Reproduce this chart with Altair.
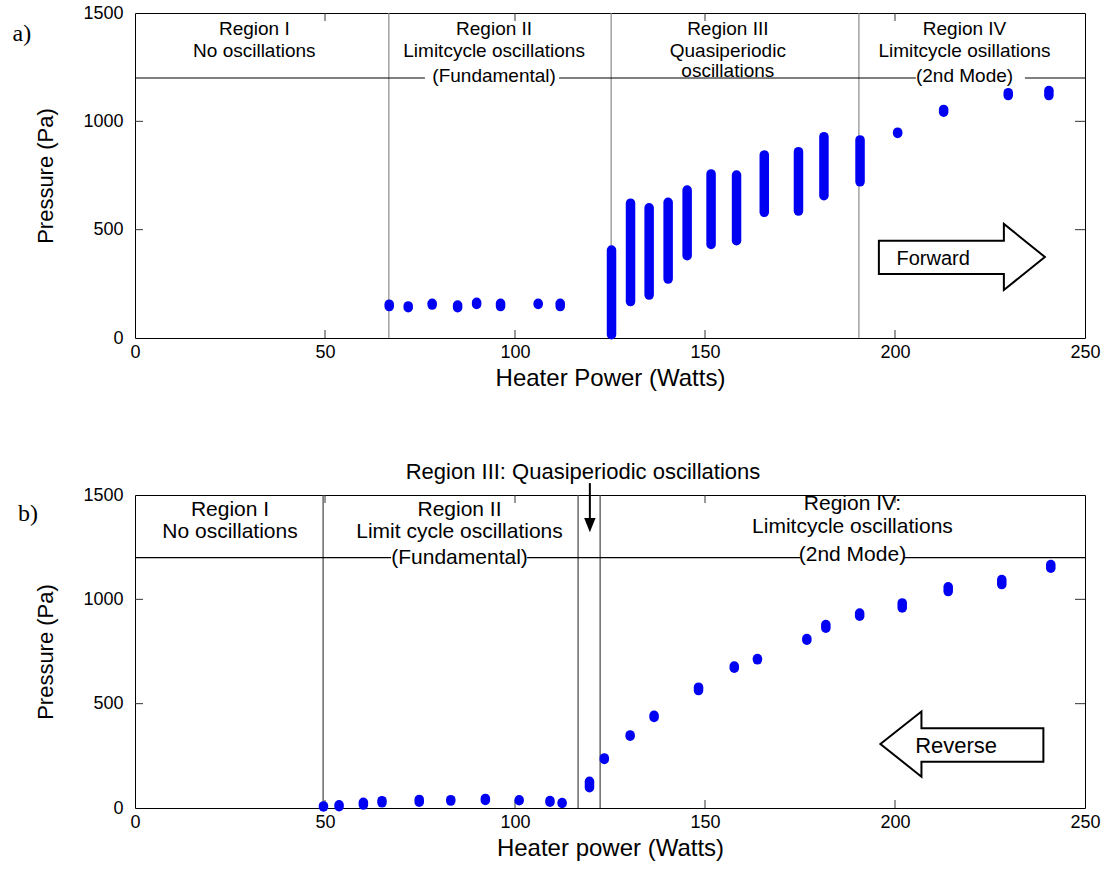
import altair as alt
import pandas as pd

# ---------------- data ----------------
# a) forward sweep: heater power (W) and pressure range (Pa) of each cluster
top_power = [66.9, 71.9, 78.2, 84.9, 89.9, 96.2, 106.1, 111.9,
             125.4, 130.4, 135.3, 140.3, 145.3, 151.6, 158.3, 165.6, 174.6, 181.3, 190.8,
             200.7, 212.8, 229.8, 240.5]
top_lo = [145, 140, 152, 140, 155, 145, 155, 145,
          15, 168, 198, 272, 380, 432, 449, 580, 586, 657, 721,
          944, 1042, 1119, 1119]
top_hi = [156, 148, 160, 152, 165, 160, 160, 160,
          406, 622, 601, 626, 683, 757, 752, 845, 860, 929, 914,
          950, 1055, 1132, 1142]

# b) reverse sweep
bot_power = [49.6, 53.7, 60.1, 65.0, 74.8, 83.1, 92.2, 101.1, 109.2, 112.4,
             119.6, 123.5, 130.3, 136.6, 148.3, 157.7, 163.8, 176.8, 181.8,
             190.7, 201.9, 214.0, 228.1, 241.0]
bot_lo = [5, 6, 14, 25, 28, 33, 36, 35, 28, 22,
          97, 233, 344, 434, 563, 670, 710, 804, 862,
          919, 959, 1037, 1071, 1149]
bot_hi = [10, 15, 27, 35, 41, 40, 46, 39, 36, 26,
          128, 240, 350, 444, 579, 680, 716, 812, 879,
          934, 983, 1060, 1095, 1167]

top_bounds = [66.8, 125.3, 190.5]
bot_bounds = [49.5, 116.6, 122.4]
band_level = [1200]

x_ticks = [0, 50, 100, 150, 200, 250]
y_ticks = [0, 500, 1000, 1500]
inner_x_ticks = [50, 100, 150, 200]
inner_y_ticks = [500, 1000]

top_text = ["Region I", "No oscillations",
            "Region II", "Limitcycle oscillations", "(Fundamental)",
            "Region III", "Quasiperiodic", "oscillations",
            "Region IV", "Limitcycle osillations", "(2nd Mode)"]
top_text_x = [31.4, 31.4, 94.5, 94.5, 94.5, 156, 156, 156, 218.3, 218.3, 218.3]
top_text_y = [1400, 1298, 1400, 1298, 1182, 1400, 1298, 1205, 1400, 1298, 1182]
top_mask_x0 = [76.3, 205.5]
top_mask_x1 = [111.6, 234.2]
top_mask_y0 = [1163, 1163]
top_mask_y1 = [1241, 1241]

bot_text = ["Region I", "No oscillations",
            "Region II", "Limit cycle oscillations", "(Fundamental)",
            "Region IV:", "Limitcycle oscillations", "(2nd Mode)"]
bot_text_x = [25, 25, 85.4, 85.4, 85.4, 188.8, 188.8, 188.8]
bot_text_y = [1399, 1294, 1399, 1294, 1169, 1430, 1316, 1182]
bot_mask_x0 = [67.4, 175.0]
bot_mask_x1 = [103.2, 202.3]
bot_mask_y0 = [1145, 1160]
bot_mask_y1 = [1232, 1250]

W = 950
H_TOP = 325
H_BOT = 313
BLUE = "#0000f2"
FONT = "Liberation Sans"

FWD_PATH = "M-1,-0.196L0.506,-0.196L0.506,-0.398L1,0L0.506,0.398L0.506,0.205L-1,0.205Z"
REV_PATH = "M-1,0L-0.496,-0.397L-0.496,-0.193L1,-0.193L1,0.218L-0.496,0.218L-0.496,0.402Z"
HEAD_PATH = "M-0.4,-0.5L0.4,-0.5L0,0.5Z"

XS = alt.Scale(domain=[0, 250], nice=False, zero=False)
YS = alt.Scale(domain=[0, 1500], nice=False, zero=False)


def x_axis(title):
    return alt.Axis(values=x_ticks, ticks=False, grid=False, domain=False, format="d",
                    labelFlush=False, labelPadding=5, title=title,
                    titlePadding=5, labelFontSize=18, titleFontSize=24,
                    titleFontWeight="normal", labelColor="black",
                    titleColor="black", labelFont=FONT, titleFont=FONT)


def y_axis():
    return alt.Axis(values=y_ticks, ticks=False, grid=False, domain=False, format="d",
                    labelPadding=12, title="Pressure (Pa)", titlePadding=25,
                    labelFontSize=18, titleFontSize=22,
                    titleFontWeight="normal", labelColor="black",
                    titleColor="black", labelFont=FONT, titleFont=FONT)


def panel(power, lo, hi, bounds, bound_color, tx, ty, tt, mx0, mx1, my0, my1,
          height, xtitle, fsize, label, label_x, label_y,
          arrow_path, arrow_size, arrow_x, arrow_y, arrow_text, arrow_tx, arrow_ty, arrow_fs):
    def xe(f):
        return alt.X(f, type="quantitative", scale=XS, axis=x_axis(xtitle))

    def ye(f):
        return alt.Y(f, type="quantitative", scale=YS, axis=y_axis())

    pts = pd.DataFrame({"power": power, "lo": lo, "hi": hi})
    bnd = pd.DataFrame({"b": bounds})
    lvl = pd.DataFrame({"lvl": band_level})
    txt = pd.DataFrame({"tx": tx, "ty": ty, "tt": tt})
    msk = pd.DataFrame({"mx0": mx0, "mx1": mx1, "my0": my0, "my1": my1})
    xt = pd.DataFrame({"xt": inner_x_ticks})
    yt = pd.DataFrame({"yt": inner_y_ticks})
    arr = pd.DataFrame({"ax": [arrow_x], "ay": [arrow_y], "atx": [arrow_tx],
                        "aty": [arrow_ty], "at": [arrow_text]})
    one = pd.DataFrame({"lab": [label]})

    data_layer = alt.Chart(pts).mark_rule(strokeWidth=9.5, strokeCap="round", color=BLUE).encode(
        x=xe("power"), y=ye("lo"), y2="hi")
    bnd_layer = alt.Chart(bnd).mark_rule(color=bound_color, strokeWidth=1.2).encode(
        x=xe("b"), y=alt.value(0), y2=alt.value(height))
    lvl_layer = alt.Chart(lvl).mark_rule(color="black", strokeWidth=1.1).encode(
        y=ye("lvl"), x=alt.value(0), x2=alt.value(W))
    mask_layer = alt.Chart(msk).mark_rect(color="white").encode(
        x=xe("mx0"), x2="mx1", y=ye("my0"), y2="my1")
    text_layer = alt.Chart(txt).mark_text(font=FONT, fontSize=fsize, align="center",
                                          baseline="alphabetic", color="black").encode(
        x=xe("tx"), y=ye("ty"), text="tt:N")
    xt_b = alt.Chart(xt).mark_rule(color="#333", strokeWidth=1).encode(
        x=xe("xt"), y=alt.value(height), y2=alt.value(height - 8))
    xt_t = alt.Chart(xt).mark_rule(color="#333", strokeWidth=1).encode(
        x=xe("xt"), y=alt.value(0), y2=alt.value(8))
    yt_l = alt.Chart(yt).mark_rule(color="#333", strokeWidth=1).encode(
        y=ye("yt"), x=alt.value(0), x2=alt.value(8))
    yt_r = alt.Chart(yt).mark_rule(color="#333", strokeWidth=1).encode(
        y=ye("yt"), x=alt.value(W), x2=alt.value(W - 10))
    arrow_layer = alt.Chart(arr).mark_point(shape=arrow_path, size=arrow_size, filled=False,
                                            stroke="black", strokeWidth=2, opacity=1).encode(
        x=xe("ax"), y=ye("ay"))
    arrow_txt = alt.Chart(arr).mark_text(font=FONT, fontSize=arrow_fs, align="left",
                                         baseline="alphabetic", color="black").encode(
        x=xe("atx"), y=ye("aty"), text="at:N")
    lab_layer = alt.Chart(one).mark_text(font="Liberation Serif", fontSize=24, align="left",
                                         baseline="middle", color="black").encode(
        x=alt.value(label_x), y=alt.value(label_y), text="lab:N")
    layers = [bnd_layer, lvl_layer, mask_layer, xt_b, xt_t, yt_l, yt_r, data_layer,
              text_layer, arrow_layer, arrow_txt, lab_layer]
    return layers, xe, ye


top_layers, _, _ = panel(top_power, top_lo, top_hi, top_bounds, "#8a8a8a",
                         top_text_x, top_text_y, top_text,
                         top_mask_x0, top_mask_x1, top_mask_y0, top_mask_y1,
                         H_TOP, "Heater Power (Watts)", 19, "a)", -122.5, 21,
                         FWD_PATH, 166 ** 2, 217.6, 374, "Forward", 200.4, 337, 20)
top = alt.layer(*top_layers).properties(width=W, height=H_TOP)

bot_layers, bxe, bye = panel(bot_power, bot_lo, bot_hi, bot_bounds, "#444444",
                             bot_text_x, bot_text_y, bot_text,
                             bot_mask_x0, bot_mask_x1, bot_mask_y0, bot_mask_y1,
                             H_BOT, "Heater power (Watts)", 21, "b)", -117, 19,
                             REV_PATH, 163 ** 2, 217.6, 307, "Reverse", 205.3, 262, 22)

# Region III call-out above panel b)
hdr = pd.DataFrame({"hx": [117.9], "hy": [1577], "ht": ["Region III: Quasiperiodic oscillations"],
                    "ax": [119.7], "ay0": [1557], "ay1": [1380], "ahy": [1356]})
hdr_text = alt.Chart(hdr).mark_text(font=FONT, fontSize=22, align="center",
                                    baseline="alphabetic", color="black").encode(
    x=bxe("hx"), y=bye("hy"), text="ht:N")
hdr_rule = alt.Chart(hdr).mark_rule(color="black", strokeWidth=2).encode(
    x=bxe("ax"), y=bye("ay0"), y2="ay1")
hdr_head = alt.Chart(hdr).mark_point(shape=HEAD_PATH, size=812, filled=True, color="black",
                                     opacity=1).encode(x=bxe("ax"), y=bye("ahy"))

bottom = alt.layer(*bot_layers, hdr_text, hdr_rule, hdr_head).properties(width=W, height=H_BOT)

chart = alt.vconcat(top, bottom, spacing=69).properties(
    padding={"left": 12, "top": 3, "right": 10, "bottom": 5},
    background="white",
).configure_view(stroke="black", strokeWidth=1).configure_concat(spacing=69)

chart.save("out.html", embed_options={"renderer": "svg", "actions": False})
